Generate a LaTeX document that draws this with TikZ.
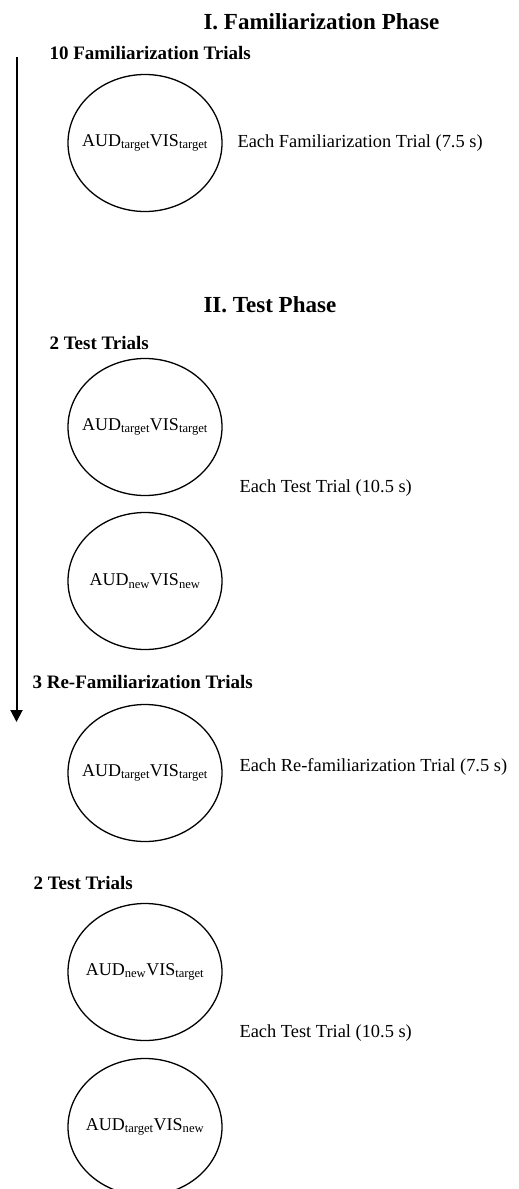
\documentclass[tikz,border=0pt]{standalone}
\usepackage{fontspec}
\setmainfont{Liberation Serif}
\usetikzlibrary{shapes.geometric,arrows.meta}

\tikzset{
  trial/.style={draw, ellipse, line width=1.3pt, minimum width=154pt, minimum height=137pt,
    inner xsep=-14pt, inner ysep=0pt, font=\fontsize{18}{21}\selectfont},
  phase/.style={anchor=west, font=\fontsize{23}{27}\selectfont\bfseries},
  block/.style={anchor=west, font=\fontsize{19}{22}\selectfont\bfseries},
  note/.style={anchor=west, font=\fontsize{18.4}{22}\selectfont}
}

\begin{document}
\begin{tikzpicture}[x=1pt, y=-1pt]
  \useasboundingbox (0,0) rectangle (519,1189);
  \clip (0,0) rectangle (519,1189);

  % familiarization phase
  \node[phase] (famphase) at (200,22) {I. Familiarization Phase};
  \node[block] (famblock) at (46,53) {10 Familiarization Trials};
  \node[trial] (fam) at (145,143) {AUD\textsubscript{target}VIS\textsubscript{target}};
  \node[note] (famnote) at (234,143) {Each Familiarization Trial (7.5 s)};

  % test phase
  \node[phase] (testphase) at (200,305) {II. Test Phase};
  \node[block] (testblockA) at (46,343) {2 Test Trials};
  \node[trial] (testA) at (145,427) {AUD\textsubscript{target}VIS\textsubscript{target}};
  \node[trial] (testB) at (145,581) {AUD\textsubscript{new}VIS\textsubscript{new}};
  \node[note] (testnoteA) at (236,488) {Each Test Trial (10.5 s)};

  % re-familiarization
  \node[block] (refamblock) at (29,682) {3 Re-Familiarization Trials};
  \node[trial] (refam) at (145,773) {AUD\textsubscript{target}VIS\textsubscript{target}};
  \node[note] (refamnote) at (236,767) {Each Re-familiarization Trial (7.5 s)};

  % second test block
  \node[block] (testblockB) at (30,883) {2 Test Trials};
  \node[trial] (testC) at (145,972) {AUD\textsubscript{new}VIS\textsubscript{target}};
  \node[trial] (testD) at (145,1127) {AUD\textsubscript{target}VIS\textsubscript{new}};
  \node[note] (testnoteB) at (236,1033) {Each Test Trial (10.5 s)};

  % time arrow
  \coordinate (start) at (16.5,57);
  \coordinate (stop) at (16.5,722);
  \draw[line width=2pt, -{Triangle[width=12pt,length=12pt]}] (start) -- (stop);
\end{tikzpicture}
\end{document}
